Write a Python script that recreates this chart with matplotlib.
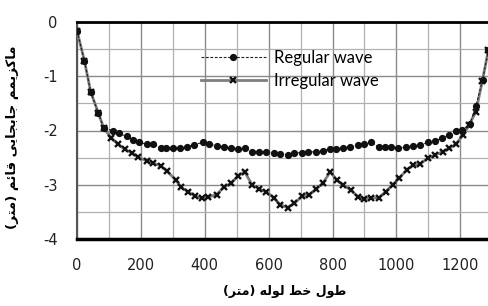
import matplotlib
matplotlib.use("Agg")
import matplotlib.pyplot as plt
from matplotlib.ticker import MultipleLocator

plt.rcParams["axes.unicode_minus"] = False

# ---------------- data ----------------
reg_x = [0, 23, 43, 67, 84, 112, 130, 155, 176, 194, 218, 237, 262, 280, 301, 322,
         343, 366, 395, 413, 438, 459, 483, 504, 525, 548, 570, 593, 616, 637, 660,
         681, 705, 723, 749, 770, 793, 812, 832, 855, 879, 900, 921, 945, 963, 983,
         1004, 1030, 1051, 1074, 1098, 1122, 1143, 1166, 1187, 1207, 1230, 1249,
         1270, 1288]
reg_y = [-0.16, -0.71, -1.29, -1.68, -1.96, -2.00, -2.05, -2.11, -2.18, -2.22, -2.25,
         -2.25, -2.32, -2.32, -2.32, -2.32, -2.30, -2.26, -2.22, -2.24, -2.29, -2.30,
         -2.32, -2.34, -2.33, -2.39, -2.39, -2.39, -2.42, -2.43, -2.45, -2.41, -2.41,
         -2.40, -2.39, -2.37, -2.34, -2.34, -2.32, -2.30, -2.27, -2.24, -2.22, -2.30,
         -2.30, -2.31, -2.32, -2.31, -2.29, -2.27, -2.22, -2.19, -2.14, -2.08, -2.01,
         -1.99, -1.88, -1.55, -1.07, -0.52]

irr_x = [0, 23, 43, 67, 84, 108, 129, 150, 171, 192, 218, 238, 262, 282, 309, 327,
         348, 369, 390, 410, 437, 459, 483, 504, 525, 548, 570, 593, 616, 637, 660,
         681, 705, 726, 749, 770, 793, 813, 832, 858, 879, 900, 921, 945, 966, 988,
         1009, 1033, 1053, 1074, 1098, 1122, 1145, 1166, 1188, 1209, 1228, 1249,
         1269, 1288]
irr_y = [-0.16, -0.71, -1.29, -1.68, -1.96, -2.14, -2.25, -2.35, -2.41, -2.49, -2.56,
         -2.60, -2.65, -2.75, -2.91, -3.05, -3.13, -3.21, -3.25, -3.23, -3.18, -3.05,
         -2.97, -2.84, -2.76, -3.00, -3.08, -3.13, -3.24, -3.37, -3.42, -3.34, -3.21,
         -3.19, -3.08, -2.97, -2.76, -2.91, -3.00, -3.10, -3.22, -3.26, -3.24, -3.24,
         -3.13, -3.00, -2.88, -2.72, -2.64, -2.62, -2.51, -2.45, -2.39, -2.33, -2.24,
         -2.08, -1.90, -1.65, -1.09, -0.52]

series_labels = ["Regular wave", "Irregular wave"]
x_ticks = [0, 200, 400, 600, 800, 1000, 1200]
y_ticks = [0, -1, -2, -3, -4]
xlabel_words = ["طول", "خط", "لوله", "متر"]
ylabel_words = ["ماکزیمم", "جابجایی", "قائم", "متر"]

# ---------------- minimal Arabic/Persian shaping ----------------
FORMS = {
    "\u0627": ("\uFE8D", "\uFE8E"),
    "\u0628": ("\uFE8F", "\uFE90", "\uFE91", "\uFE92"),
    "\u062A": ("\uFE95", "\uFE96", "\uFE97", "\uFE98"),
    "\u062C": ("\uFE9D", "\uFE9E", "\uFE9F", "\uFEA0"),
    "\u062E": ("\uFEA5", "\uFEA6", "\uFEA7", "\uFEA8"),
    "\u0631": ("\uFEAD", "\uFEAE"),
    "\u0632": ("\uFEAF", "\uFEB0"),
    "\u0637": ("\uFEC1", "\uFEC2", "\uFEC3", "\uFEC4"),
    "\u0642": ("\uFED5", "\uFED6", "\uFED7", "\uFED8"),
    "\u0644": ("\uFEDD", "\uFEDE", "\uFEDF", "\uFEE0"),
    "\u0645": ("\uFEE1", "\uFEE2", "\uFEE3", "\uFEE4"),
    "\u0647": ("\uFEE9", "\uFEEA", "\uFEEB", "\uFEEC"),
    "\u0648": ("\uFEED", "\uFEEE"),
    "\u0626": ("\uFE89", "\uFE8A", "\uFE8B", "\uFE8C"),
    "\u06A9": ("\uFB8E", "\uFB8F", "\uFB90", "\uFB91"),
    "\u06CC": ("\uFBFC", "\uFBFD", "\uFBFE", "\uFBFF"),
}


def vis(word):
    out = []
    for i, c in enumerate(word):
        f = FORMS.get(c)
        if f is None:
            out.append(c)
            continue
        prev = word[i - 1] if i > 0 else None
        nxt = word[i + 1] if i + 1 < len(word) else None
        jp = prev in FORMS and len(FORMS[prev]) == 4
        jn = nxt in FORMS and len(f) == 4
        if jp and jn:
            g = f[3]
        elif jp:
            g = f[1]
        elif jn:
            g = f[2]
        else:
            g = f[0]
        out.append(g)
    return "".join(reversed(out))


def vis_sentence(words):
    # words in logical order; last one is in parentheses; output in visual LTR order
    parts = ["(" + vis(words[-1]) + ")"] + [vis(w) for w in reversed(words[:-1])]
    return " ".join(parts)


xlabel_text = vis_sentence(xlabel_words)
ylabel_text = vis_sentence(ylabel_words)

# ---------------- figure ----------------
fig = plt.figure(figsize=(4.89, 3.06), dpi=100)
ax = fig.add_axes([77 / 489, 1 - 239 / 306, 412 / 489, 217 / 306])

ax.plot(irr_x, irr_y, color="#7f7f7f", lw=2.0, marker="x", ms=4.5, mec="#111111",
        mew=1.7, label=series_labels[1], zorder=3)
ax.plot(reg_x, reg_y, color="#222222", lw=0.8, ls=(0, (2.5, 1.5)), marker="o",
        ms=4.2, mfc="#111111", mec="#111111", label=series_labels[0], zorder=4)

ax.set_xlim(0, 1290)
ax.set_ylim(-4, 0)
ax.set_xticks(x_ticks)
ax.set_yticks(y_ticks)
ax.xaxis.set_minor_locator(MultipleLocator(100))
ax.yaxis.set_minor_locator(MultipleLocator(0.5))
ax.grid(True, which="major", color="#8a8a8a", lw=1.0, zorder=0)
ax.grid(True, which="minor", color="#b0b0b0", lw=0.9, zorder=0)
ax.set_axisbelow(True)
ax.tick_params(which="both", length=0, labelsize=10.5, colors="#222222")
ax.tick_params(axis="x", pad=14)
ax.tick_params(axis="y", pad=14)

ax.spines["right"].set_visible(False)
ax.spines["top"].set_color("black")
ax.spines["top"].set_linewidth(2.0)
ax.spines["bottom"].set_color("black")
ax.spines["bottom"].set_linewidth(2.5)
ax.spines["left"].set_color("#555555")
ax.spines["left"].set_linewidth(1.5)

h, l = ax.get_legend_handles_labels()
leg = ax.legend([h[1], h[0]], [l[1], l[0]], loc="upper left",
                bbox_to_anchor=((186 - 77) / 412, (239 - 35) / 217),
                frameon=False, handlelength=3.9, handletextpad=0.45,
                labelspacing=0.42, prop={"family": "Lato", "size": 12})

fig.text(285 / 489, 1 - 291 / 306, xlabel_text, ha="center", va="center",
         fontsize=9, fontweight="bold", family="DejaVu Sans")
fig.text(13 / 489, 1 - 137 / 306, ylabel_text, ha="center", va="center",
         rotation=90, fontsize=9.5, fontweight="bold", family="DejaVu Sans")

fig.savefig("out.png", dpi=100)
